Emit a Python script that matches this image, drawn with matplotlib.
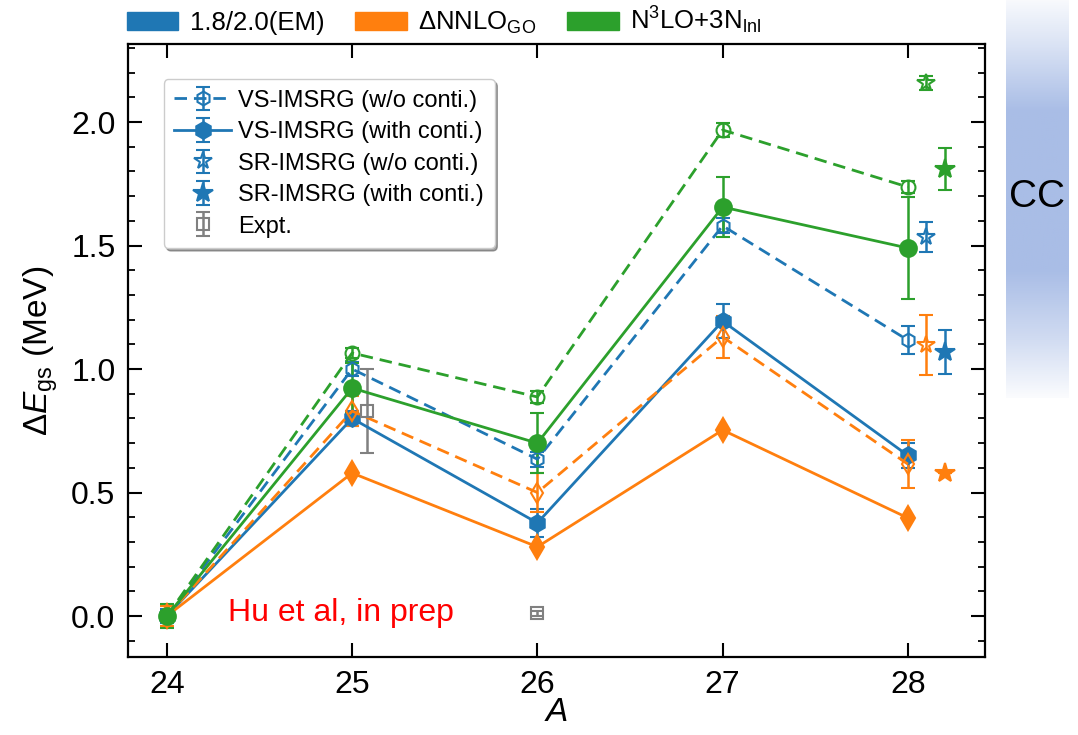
import numpy as np
import matplotlib
matplotlib.use("Agg")
import matplotlib.pyplot as plt
from matplotlib.patches import Patch
from matplotlib.ticker import MultipleLocator
from matplotlib.colors import LinearSegmentedColormap

# Fuentes tipo Arial
plt.rcParams['font.family'] = ['Liberation Sans', 'DejaVu Sans']
plt.rcParams['mathtext.fontset'] = 'custom'
plt.rcParams['mathtext.rm'] = 'Liberation Sans'
plt.rcParams['mathtext.it'] = 'Liberation Sans:italic'
plt.rcParams['mathtext.bf'] = 'Liberation Sans:bold'

# Datos
A = [24, 25, 26, 27, 28]
A_sr_wo = [28.1]
A_sr_w = [28.2]

# 1.8/2.0(EM)
em_vs_wo = [0.0, 1.00, 0.635, 1.58, 1.117]
em_vs_wo_err = [0.02, 0.03, 0.03, 0.03, 0.057]
em_vs_w = [0.0, 0.80, 0.377, 1.194, 0.65]
em_vs_w_err = [0.03, 0.03, 0.058, 0.07, 0.05]
em_sr_wo = [1.534]
em_sr_wo_err = [0.06]
em_sr_w = [1.069]
em_sr_w_err = [0.09]

# DNNLO_GO
go_vs_wo = [0.0, 0.83, 0.50, 1.13, 0.615]
go_vs_wo_err = [0.04, 0.06, 0.08, 0.085, 0.097]
go_vs_w = [0.0, 0.579, 0.28, 0.753, 0.397]
go_vs_w_err = [0.0, 0.0, 0.0, 0.0, 0.0]
go_sr_wo = [1.097]
go_sr_wo_err = [0.12]
go_sr_w = [0.579]
go_sr_w_err = [0.0]

# N3LO+3N_lnl
n3_vs_wo = [0.0, 1.065, 0.887, 1.968, 1.737]
n3_vs_wo_err = [0.02, 0.02, 0.025, 0.03, 0.025]
n3_vs_w = [0.0, 0.923, 0.70, 1.656, 1.49]
n3_vs_w_err = [0.05, 0.10, 0.12, 0.12, 0.205]
n3_sr_wo = [2.158]
n3_sr_wo_err = [0.03]
n3_sr_w = [1.81]
n3_sr_w_err = [0.087]

# Experimento
A_expt = [25.08, 26.0]
expt = [0.83, 0.012]
expt_err = [0.17, 0.01]

c_em = '#1f77b4'
c_go = '#ff7f0e'
c_n3 = '#2ca02c'
dash = (0, (4.5, 2.5))

fig = plt.figure(figsize=(10.78, 7.35), dpi=100)
ax = fig.add_axes([0.1187, 0.1061, 0.795, 0.834])


def draw(x, y, err, color, marker, ls, filled, ms=10):
    fc = color if filled else 'none'
    return ax.errorbar(x, y, yerr=err, color=color, marker=marker, ls=ls,
                       mfc=fc, mec=color, mew=1.5, ms=ms, lw=2,
                       elinewidth=1.8, capsize=5, capthick=1.5)


handles = {}
for col, mk, vs_wo, vs_wo_e, vs_w, vs_w_e, sr_wo, sr_wo_e, sr_w, sr_w_e in [
        (c_em, 'h', em_vs_wo, em_vs_wo_err, em_vs_w, em_vs_w_err,
         em_sr_wo, em_sr_wo_err, em_sr_w, em_sr_w_err),
        (c_go, 'd', go_vs_wo, go_vs_wo_err, go_vs_w, go_vs_w_err,
         go_sr_wo, go_sr_wo_err, go_sr_w, go_sr_w_err),
        (c_n3, 'o', n3_vs_wo, n3_vs_wo_err, n3_vs_w, n3_vs_w_err,
         n3_sr_wo, n3_sr_wo_err, n3_sr_w, n3_sr_w_err)]:
    h1 = draw(A, vs_wo, vs_wo_e, col, mk, dash, False)
    h2 = draw(A, vs_w, vs_w_e, col, mk, '-', True, ms=12)
    h3 = draw(A_sr_wo, sr_wo, sr_wo_e, col, '*', 'none', False, ms=13)
    h4 = draw(A_sr_w, sr_w, sr_w_e, col, '*', 'none', True, ms=15)
    if col == c_em:
        handles = [h1, h2, h3, h4]

h5 = ax.errorbar(A_expt, expt, yerr=expt_err, color='gray', marker='s',
                 ls='none', mfc='none', mec='gray', mew=1.5, ms=8,
                 elinewidth=1.8, capsize=5, capthick=1.5)
handles.append(h5)

labels = ['VS-IMSRG (w/o conti.)', 'VS-IMSRG (with conti.)',
          'SR-IMSRG (w/o conti.)', 'SR-IMSRG (with conti.)', 'Expt.']
ax.legend(handles, labels, loc='upper left', bbox_to_anchor=(0.028, 0.962),
          fontsize=17, fancybox=True, shadow=True, framealpha=1,
          handlelength=2.4, handletextpad=0.3, labelspacing=0.4,
          borderpad=0.45)

# Texto en rojo
ax.text(24.33, 0.012, 'Hu et al, in prep', color='red', fontsize=23,
        va='center', ha='left')

# Ejes
ax.set_xlim(23.79, 28.416)
ax.set_ylim(-0.166, 2.316)
ax.set_xticks(A)
ax.set_yticks([0.0, 0.5, 1.0, 1.5, 2.0])
ax.yaxis.set_minor_locator(MultipleLocator(0.1))
ax.tick_params(which='both', direction='in', top=True, right=True,
               labelsize=23)
ax.tick_params(which='major', length=10, width=1.5, pad=9)
ax.tick_params(which='minor', length=5, width=1.3)
for s in ax.spines.values():
    s.set_linewidth(1.6)
ax.set_xlabel('$A$', fontsize=24, labelpad=-2)
ax.set_ylabel(r'$\Delta E_{\rm gs}$ (MeV)', fontsize=24, labelpad=8)

# Leyenda de colores arriba
patches = [Patch(color=c_em, label='1.8/2.0(EM)'),
           Patch(color=c_go, label=r'$\Delta$NNLO$_{\rm GO}$'),
           Patch(color=c_n3, label=r'N$^3$LO+3N$_{\rm lnl}$')]
fig.legend(handles=patches, loc='center', bbox_to_anchor=(0.412, 0.972),
           ncol=3, frameon=False, fontsize=18.5, handlelength=2.0,
           handleheight=0.7, handletextpad=0.45, columnspacing=1.2)

# Banda CC con degradado
band = fig.add_axes([0.933, 0.4585, 0.058, 0.5415])
band.axis('off')
pos = np.linspace(0, 1, 200)
level = np.interp(pos, [0, 0.12, 0.28, 0.68, 0.85, 1.0],
                  [0.08, 0.45, 1.0, 1.0, 0.55, 0.05])
cmap = LinearSegmentedColormap.from_list('cc', ['white', '#a9bde6'])
band.imshow(level.reshape(-1, 1), cmap=cmap, vmin=0, vmax=1,
            aspect='auto', extent=[0, 1, 0, 1])
fig.text(0.962, 0.732, 'CC', fontsize=28, ha='center', va='center')

fig.savefig('out.png', dpi=100)
